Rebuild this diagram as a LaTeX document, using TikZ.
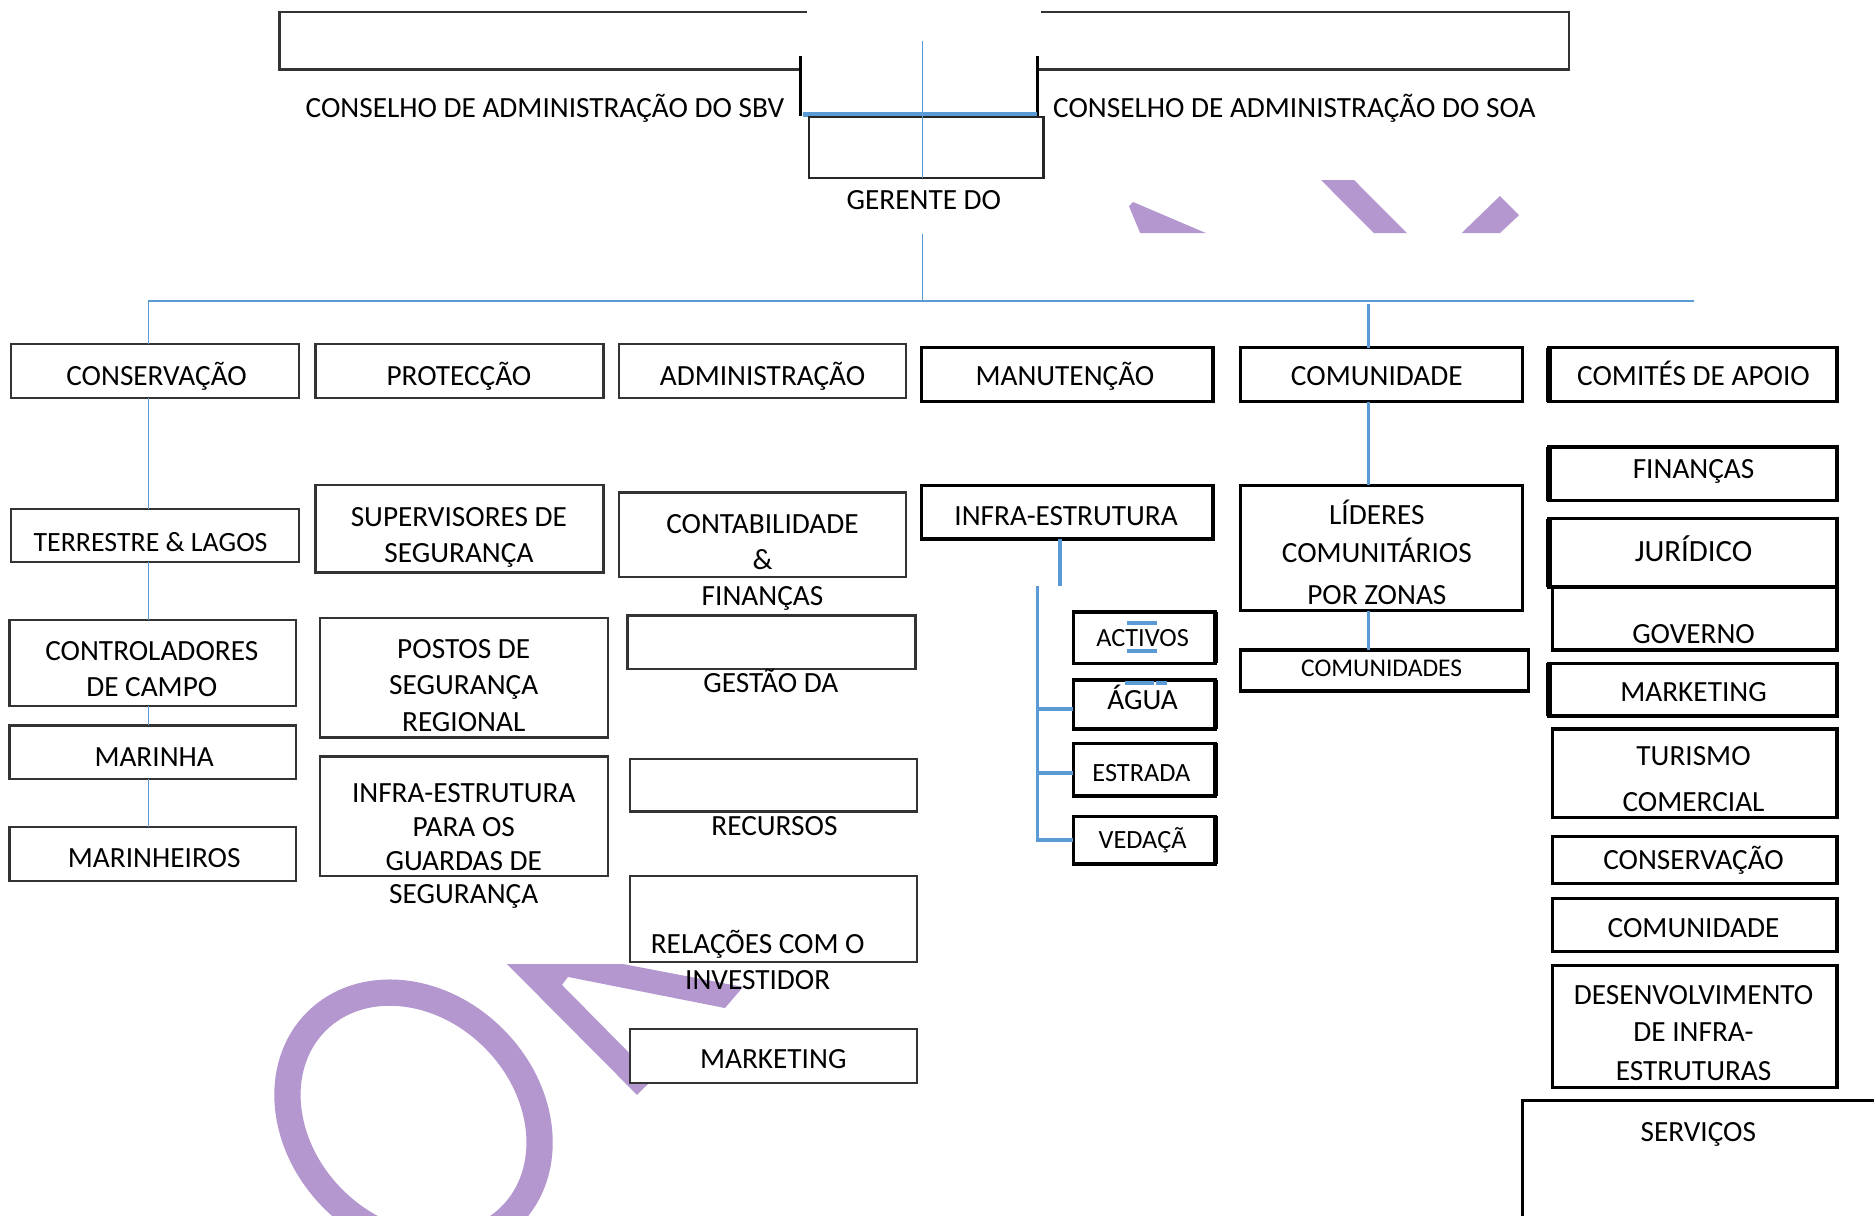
\documentclass[tikz,border=0pt]{standalone}
\usepackage{fontspec}
\setmainfont{Carlito}
\usetikzlibrary{fit}
\definecolor{wmpurple}{RGB}{180,151,207}
\definecolor{lnblue}{RGB}{91,155,213}
\tikzset{
  box/.style={draw=black!80, line width=1.1pt, fill=white, inner sep=0pt, outer sep=0pt},
  tbox/.style={draw=black, line width=1.7pt, fill=white, inner sep=0pt, outer sep=0pt},
  txt/.style={font=\fontsize{14.7}{17}\selectfont, text height=9.2pt, text depth=0pt, inner sep=0pt, yshift=-0.6pt},
  stxt/.style={font=\fontsize{13.2}{15}\selectfont, text height=8.3pt, text depth=0pt, inner sep=0pt, yshift=-0.6pt},
  btxt/.style={font=\fontsize{15.5}{18}\selectfont, text height=9.8pt, text depth=0pt, inner sep=0pt, yshift=-0.6pt},
  conn/.style={draw=lnblue, line width=0.7pt},
  tconn/.style={draw=lnblue, line width=1.8pt},
  topln/.style={draw=black!80, line width=1.2pt},
  wm/.style={fill=wmpurple, draw=none},
}
\newcommand\bx[6]{\node[#1, fit={(#3,#4) (#5,#6)}] (#2) {};}
\begin{document}
\begin{tikzpicture}[x=0.6pt, y=-0.6pt]
\useasboundingbox (0,0) rectangle (1568,1017);
\clip (0,0) rectangle (1568,1017);
\fill[white] (0,0) rectangle (1568,1017);

% watermark fragments
\fill[wm] (944.6,172.4) -- (948,169) -- (1009,195) -- (954,195) -- cycle;
\fill[wm] (1105.3,150.6) -- (1132.9,150.6) -- (1177.2,195) -- (1149.6,195) -- cycle;
\fill[wm] (1255,164) -- (1271,180) -- (1255,195) -- (1223,195) -- cycle;
\fill[wm] (424.2,806.6) -- (521.3,806.6) -- (621.7,825.8) -- (606.6,843.4) -- (475.2,817.4) -- (470.2,824.1) -- (547.2,902) -- (533,916.1) -- cycle;
\begin{scope}[shift={(346,936)}, rotate=-45]
  \draw[wmpurple, line width=13.2pt] (0,0) ellipse [x radius=115, y radius=95];
\end{scope}

% top boards
\draw[topln] (675,10) -- (234,10) -- (234,58) -- (670,58);
\draw[topln] (871,10) -- (1313,10) -- (1313,58) -- (868,58);
\draw[draw=black, line width=1.3pt] (670,47) -- (670,97);
\draw[draw=black, line width=1.3pt] (868,47) -- (868,97);
\draw[draw=lnblue, line width=2.4pt] (672,96) -- (868,96);
\node[txt] (sbv) at (456,90) {CONSELHO DE ADMINISTRAÇÃO DO SBV};
\node[txt] (soa) at (1083,90) {CONSELHO DE ADMINISTRAÇÃO DO SOA};

\node[box, fill=none, draw=black!85, line width=1.2pt, fit={(677,98) (873,149)}] (ger) {};
\node[txt] (gert) at (773,167) {GERENTE DO};

% row 1
\bx{box}{cons}{9}{288}{250}{333}
\bx{box}{prot}{264}{288}{505}{333}
\bx{box}{adm}{518}{288}{758}{333}
\bx{tbox}{man}{771}{291}{1015}{336}
\bx{tbox}{com}{1038}{291}{1274}{336}
\bx{tbox}{comi}{1296}{291}{1537}{336}

% column 1
\bx{box}{terr}{9}{426}{250}{470}
\bx{box}{ctrl}{8}{519}{248}{591}
\bx{box}{mar}{8}{607}{248}{652}
\bx{box}{mari}{8}{692}{248}{737}
% column 2
\bx{box}{sup}{264}{406}{505}{479}
\bx{box}{post}{268}{517}{509}{617}
\bx{box}{infg}{268}{633}{509}{733}
% column 3
\bx{box}{cont}{518}{412}{758}{483}
\bx{box}{gest}{525}{515}{766}{560}
\bx{box}{rec}{527}{635}{767}{679}
\bx{box}{rel}{527}{733}{767}{805}
\bx{box}{mkt}{527}{861}{767}{906}
% column 4
\bx{tbox}{infra}{771}{406}{1015}{451}
\bx{tbox}{act}{898}{512}{1017}{555}
\bx{tbox}{agua}{898}{569}{1017}{610}
\bx{tbox}{estr}{898}{622}{1017}{666}
\bx{tbox}{ved}{898}{683}{1017}{723}
\foreach \n in {act,agua,estr,ved}{\draw[line width=3pt] (\n.north east) -- (\n.south east);}
% column 5
\bx{tbox}{lid}{1038}{406}{1274}{511}
\bx{tbox}{comus}{1038}{544}{1279}{578}
% column 6
\bx{tbox}{fin}{1296}{374}{1537}{419}
\bx{tbox}{jur}{1296}{434}{1537}{491}
\bx{tbox}{gov}{1299}{491}{1537}{544}
\bx{tbox}{mk2}{1296}{555}{1537}{599}
\bx{tbox}{tur}{1299}{610}{1537}{684}
\bx{tbox}{con2}{1299}{700}{1537}{739}
\bx{tbox}{com2}{1299}{752}{1537}{796}
\bx{tbox}{des}{1299}{808}{1537}{910}
\foreach \n in {comi,fin,jur,mk2}{\draw[line width=3.2pt] (\n.north west) -- (\n.south west);}
\draw[draw=black, line width=1.7pt] (1274,1030) -- (1274,921) -- (1580,921);
\coordinate (servtop) at (1274,921);

% connectors
\coordinate (hl) at (124,252);
\coordinate (hr) at (1417,252);
\coordinate (gtop) at (772,34);
\coordinate (gtxt) at (772,196);
\draw[conn] (gtop) -- (ger.south -| gtop);
\draw[conn] (gtxt) -- (hl -| gtxt);
\draw[conn] (hl) -- (hr);
\draw[conn] (hl) -- (cons.north -| hl);
\draw[conn] (cons.south -| hl) -- (terr.north -| hl);
\draw[conn] (terr.south -| hl) -- (ctrl.north -| hl);
\draw[conn] (ctrl.south -| hl) -- (mar.north -| hl);
\draw[conn] (mar.south -| hl) -- (mari.north -| hl);

\coordinate (c5) at (1145,254);
\draw[tconn] (c5) -- (com.north -| c5);
\draw[tconn] (com.south -| c5) -- (lid.north -| c5);
\draw[tconn] (lid.south -| c5) -- (comus.north -| c5);

\coordinate (c4a) at (887,490);
\coordinate (c4b) at (868,490);
\draw[tconn] (infra.south -| c4a) -- (c4a);
\draw[tconn] (c4b) |- (ved.west);
\draw[tconn] (c4b |- 0,593) -- (agua.west |- 0,593);
\draw[tconn] (c4b |- 0,647) -- (estr.west |- 0,647);

% small blue marks
\draw[draw=lnblue, line width=1.8pt] (943,521.4) -- (968,521.4);
\draw[draw=lnblue, line width=1.8pt] (943,544.7) -- (968,544.7);
\draw[draw=lnblue, line width=1.8pt] (941,571.3) -- (965.6,571.3);
\draw[draw=lnblue, line width=1.8pt] (967.4,571.3) -- (976.5,571.3);

% texts
\node[txt] (t-cons) at (131,314) {CONSERVAÇÃO};
\node[txt] (t-prot) at (384,314) {PROTECÇÃO};
\node[txt] (t-adm) at (638,314) {ADMINISTRAÇÃO};
\node[txt] (t-man) at (891,314) {MANUTENÇÃO};
\node[txt] (t-com) at (1152,314) {COMUNIDADE};
\node[txt] (t-comi) at (1417,314) {COMITÉS DE APOIO};

\node[txt, font=\fontsize{14}{16}\selectfont] (t-terr) at (126,453) {TERRESTRE \& LAGOS};
\node[txt] (t-ctrl1) at (127,544) {CONTROLADORES};
\node[txt] (t-ctrl2) at (127,574) {DE CAMPO};
\node[txt] (t-mar) at (129,633) {MARINHA};
\node[txt] (t-mari) at (129,717) {MARINHEIROS};

\node[txt] (t-sup1) at (384,432) {SUPERVISORES DE};
\node[txt] (t-sup2) at (384,462) {SEGURANÇA};
\node[txt] (t-post1) at (388,542) {POSTOS DE};
\node[txt] (t-post2) at (388,572) {SEGURANÇA};
\node[txt] (t-post3) at (388,603) {REGIONAL};
\node[txt] (t-infg1) at (388,663) {INFRA-ESTRUTURA};
\node[txt] (t-infg2) at (388,691) {PARA OS};
\node[txt] (t-infg3) at (388,720) {GUARDAS DE};
\node[txt] (t-infg4) at (388,747) {SEGURANÇA};

\node[txt] (t-cont1) at (638,438) {CONTABILIDADE};
\node[txt] (t-cont2) at (638,468) {\&};
\node[txt] (t-cont3) at (638,498) {FINANÇAS};
\node[txt] (t-gest) at (645,571) {GESTÃO DA};
\node[txt] (t-rec) at (648,690) {RECURSOS};
\node[txt] (t-rel1) at (634,789) {RELAÇÕES COM O};
\node[txt] (t-rel2) at (634,819) {INVESTIDOR};
\node[txt] (t-mkt) at (647,885) {MARKETING};

\node[txt] (t-infra) at (892,431) {INFRA-ESTRUTURA};
\node[stxt] (t-act) at (956,533) {ACTIVOS};
\node[txt] (t-agua) at (956,585) {ÁGUA};
\node[stxt] (t-estr) at (955,646) {ESTRADA};
\node[stxt] (t-ved) at (956,702) {VEDAÇÃ};

\node[txt] (t-lid1) at (1152,430) {LÍDERES};
\node[txt] (t-lid2) at (1152,462) {COMUNITÁRIOS};
\node[txt] (t-lid3) at (1152,497) {POR ZONAS};
\node[stxt, font=\fontsize{12.8}{15}\selectfont] (t-comus) at (1156,558) {COMUNIDADES};

\node[txt] (t-fin) at (1417,392) {FINANÇAS};
\node[btxt] (t-jur) at (1417,461) {JURÍDICO};
\node[txt] (t-gov) at (1417,530) {GOVERNO};
\node[txt] (t-mk2) at (1417,578) {MARKETING};
\node[txt] (t-tur1) at (1417,632) {TURISMO};
\node[txt] (t-tur2) at (1417,670) {COMERCIAL};
\node[txt] (t-con2) at (1417,719) {CONSERVAÇÃO};
\node[txt] (t-com2) at (1417,776) {COMUNIDADE};
\node[txt] (t-des1) at (1417,832) {DESENVOLVIMENTO};
\node[txt] (t-des2) at (1417,863) {DE INFRA-};
\node[txt] (t-des3) at (1417,895) {ESTRUTURAS};
\node[txt] (t-serv) at (1421,946) {SERVIÇOS};
\end{tikzpicture}
\end{document}
